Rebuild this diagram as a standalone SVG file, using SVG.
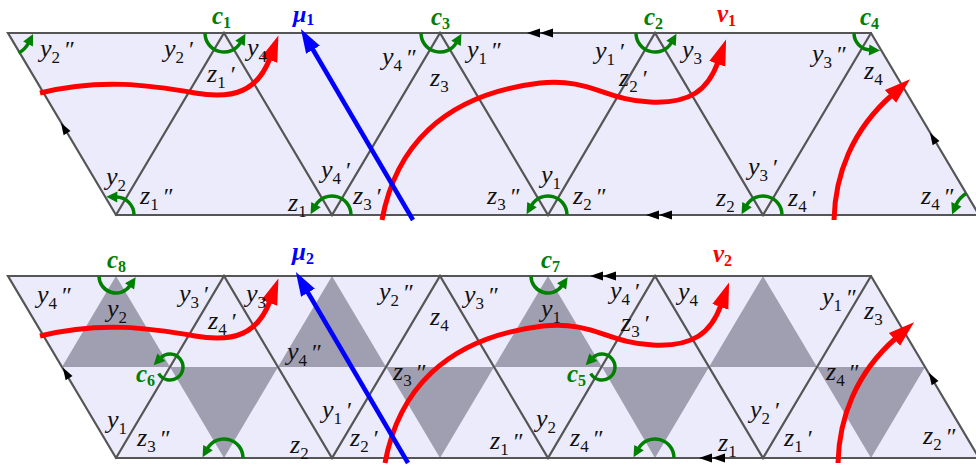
<svg xmlns="http://www.w3.org/2000/svg" width="976" height="466" viewBox="0 0 976 466">
<defs>
<style>
.fill{fill:#ebebfb;stroke:none}
.gray{fill:#9f9fb1;stroke:none}
.ln{stroke:#555;stroke-width:2.2;fill:none;stroke-linecap:round}
.rc{stroke:#ff0000;stroke-width:5;fill:none;marker-end:url(#ar)}
.bc{stroke:#0000ff;stroke-width:4.5;fill:none;marker-end:url(#ab)}
.gc{stroke:#008000;stroke-width:3.5;fill:none;marker-end:url(#ag)}
.m{font-family:"Liberation Serif","DejaVu Serif",serif;font-size:26px;font-style:italic;fill:#111}
.s{font-size:17px;font-style:normal}
.p{font-size:24px;font-style:normal}
.g{font-family:"Liberation Serif","DejaVu Serif",serif;font-size:25px;font-style:italic;font-weight:bold;fill:#008000}
.bl{fill:#0000ff}
.rd{fill:#ff0000}
.gs{font-size:16px;font-style:normal;font-weight:bold}
</style>
<marker id="ar" markerUnits="userSpaceOnUse" viewBox="0 -12 30 24" markerWidth="30" markerHeight="24" refX="2" refY="0" orient="auto"><path d="M0,-8.5 L26,0 L0,8.5 Z" fill="#ff0000"/></marker>
<marker id="ab" markerUnits="userSpaceOnUse" viewBox="0 -12 30 24" markerWidth="30" markerHeight="24" refX="2" refY="0" orient="auto"><path d="M0,-8 L24,0 L0,8 Z" fill="#0000ff"/></marker>
<marker id="ag" markerUnits="userSpaceOnUse" viewBox="-2 -8 16 16" markerWidth="16" markerHeight="16" refX="1" refY="0" orient="auto"><path d="M0,-5.5 L11,0 L0,5.5 Z" fill="#008000"/></marker>
<path id="sa" d="M-6,-4 L6,0 L-6,4 Z" fill="#000"/>
<path id="da" d="M0,0 L13,-4.5 L13,4.5 Z M13,0 L26,-4.5 L26,4.5 Z" fill="#000"/>
</defs>

<!-- Top panel -->
<g id="panel1">
<polygon class="fill" points="8,33 871,33 979,215 116,215"/>
<g id="edges1" class="ln">
<path d="M8,33 L871,33 L979,215 L116,215 Z"/>
<path d="M116,215 L224,33 L332,215 L440,33 L548,215 L655,33 L763,215 L871,33"/>
</g>
<g id="edgemarks1">
<use href="#sa" transform="translate(64,128) rotate(-120.7)"/>
<use href="#sa" transform="translate(933,138) rotate(-120.7)"/>
<use href="#da" transform="translate(527,33)"/>
<use href="#da" transform="translate(646,215)"/>
</g>
</g>

<!-- Bottom panel -->
<g id="panel2">
<polygon class="fill" points="8,276 871,276 979,458 116,458"/>
<g id="shade2">
<polygon class="gray" points="116,276 62,367 170,367"/>
<polygon class="gray" points="170,367 278,367 224,458"/>
<polygon class="gray" points="332,276 278,367 386,367"/>
<polygon class="gray" points="386,367 494,367 440,458"/>
<polygon class="gray" points="548,276 494,367 602,367"/>
<polygon class="gray" points="602,367 709,367 655,458"/>
<polygon class="gray" points="763,276 709,367 817,367"/>
<polygon class="gray" points="817,367 925,367 871,458"/>
</g>
<g id="edges2" class="ln">
<path d="M8,276 L871,276 L979,458 L116,458 Z"/>
<path d="M116,458 L224,276 L332,458 L440,276 L548,458 L655,276 L763,458 L871,276"/>
</g>
<g id="edgemarks2">
<use href="#sa" transform="translate(66,373) rotate(-120.7)"/>
<use href="#sa" transform="translate(932,378) rotate(-120.7)"/>
<use href="#da" transform="translate(590,276)"/>
<use href="#da" transform="translate(699,458)"/>
</g>
</g>

<!-- connectors: curves and arcs -->
<g id="connectors">
<path class="rc" d="M40,93 C100,78 150,85 195,93 C235,100 258,90 270,58"/>
<path class="rc" d="M382,220 C395,150 440,95 540,83 C590,78 605,100 650,102 C690,104 708,90 718,62"/>
<path class="rc" d="M834,220 C835,175 852,130 892,95"/>
<path class="bc" d="M413,220 L312,48"/>

<path class="rc" d="M40,336 C100,321 150,328 195,336 C235,343 258,333 270,301"/>
<path class="rc" d="M385,463 C398,393 443,338 543,326 C593,321 608,343 653,345 C693,347 711,333 721,305"/>
<path class="rc" d="M838,463 C839,418 856,373 896,338"/>
<path class="bc" d="M408,463 L307,291"/>

<path class="gc" d="M18.5,53 A23,23 0 0 0 28.5,43"/>
<path class="gc" d="M205,33 A19,19 0 0 0 240.5,42.5"/>
<path class="gc" d="M421,33 A19,19 0 0 0 456.5,42.5"/>
<path class="gc" d="M636,33 A19,19 0 0 0 671.5,42.5"/>
<path class="gc" d="M854,33 A17,17 0 0 0 870.1,50"/>
<path class="gc" d="M134,215 A18,18 0 0 0 116.3,197"/>
<path class="gc" d="M351,215 A19,19 0 0 0 315.5,205.5"/>
<path class="gc" d="M567,215 A19,19 0 0 0 531.5,205.5"/>
<path class="gc" d="M782,215 A19,19 0 0 0 746.5,205.5"/>
<path class="gc" d="M966.1,193.6 A25,25 0 0 0 956,205.2"/>

<path class="gc" d="M99,276 A17,17 0 0 0 130.1,285.5"/>
<path class="gc" d="M531,276 A17,17 0 0 0 562.1,285.5"/>
<path class="gc" d="M158.7,373.5 A13,13 0 1 0 160.6,358"/>
<path class="gc" d="M590.7,373.5 A13,13 0 1 0 592.6,358"/>
<path class="gc" d="M243,458 A19,19 0 0 0 207.5,448.5"/>
<path class="gc" d="M674,458 A19,19 0 0 0 638.5,448.5"/>
</g>

<!-- labels -->
<g id="labels1" class="m">
<text x="40" y="57">y<tspan class="s" dy="6">2</tspan><tspan class="p" dy="-6" dx="5">″</tspan></text>
<text x="164" y="57">y<tspan class="s" dy="6">2</tspan><tspan class="p" dy="-6" dx="5">′</tspan></text>
<text x="247" y="56">y<tspan class="s" dy="6">4</tspan></text>
<text x="207" y="82">z<tspan class="s" dy="6">1</tspan><tspan class="p" dy="-6" dx="5">′</tspan></text>
<text x="106" y="185">y<tspan class="s" dy="6">2</tspan></text>
<text x="140" y="204">z<tspan class="s" dy="6">1</tspan><tspan class="p" dy="-6" dx="5">″</tspan></text>
<text x="288" y="211">z<tspan class="s" dy="6">1</tspan></text>
<text x="321" y="178">y<tspan class="s" dy="6">4</tspan><tspan class="p" dy="-6" dx="5">′</tspan></text>
<text x="353" y="204">z<tspan class="s" dy="6">3</tspan><tspan class="p" dy="-6" dx="5">′</tspan></text>
<text x="382" y="65">y<tspan class="s" dy="6">4</tspan><tspan class="p" dy="-6" dx="5">″</tspan></text>
<text x="430" y="86">z<tspan class="s" dy="6">3</tspan></text>
<text x="467" y="58">y<tspan class="s" dy="6">1</tspan><tspan class="p" dy="-6" dx="5">″</tspan></text>
<text x="541" y="183">y<tspan class="s" dy="6">1</tspan></text>
<text x="487" y="204">z<tspan class="s" dy="6">3</tspan><tspan class="p" dy="-6" dx="5">″</tspan></text>
<text x="573" y="204">z<tspan class="s" dy="6">2</tspan><tspan class="p" dy="-6" dx="5">″</tspan></text>
<text x="595" y="59">y<tspan class="s" dy="6">1</tspan><tspan class="p" dy="-6" dx="5">′</tspan></text>
<text x="619" y="86">z<tspan class="s" dy="6">2</tspan><tspan class="p" dy="-6" dx="5">′</tspan></text>
<text x="682" y="58">y<tspan class="s" dy="6">3</tspan></text>
<text x="812" y="62">y<tspan class="s" dy="6">3</tspan><tspan class="p" dy="-6" dx="5">″</tspan></text>
<text x="864" y="79">z<tspan class="s" dy="6">4</tspan></text>
<text x="748" y="175">y<tspan class="s" dy="6">3</tspan><tspan class="p" dy="-6" dx="5">′</tspan></text>
<text x="716" y="206">z<tspan class="s" dy="6">2</tspan></text>
<text x="788" y="206">z<tspan class="s" dy="6">4</tspan><tspan class="p" dy="-6" dx="5">′</tspan></text>
<text x="921" y="204">z<tspan class="s" dy="6">4</tspan><tspan class="p" dy="-6" dx="5">″</tspan></text>
</g>

<g id="labels2" class="m">
<text x="37" y="303">y<tspan class="s" dy="6">4</tspan><tspan class="p" dy="-6" dx="5">″</tspan></text>
<text x="107" y="317">y<tspan class="s" dy="6">2</tspan></text>
<text x="179" y="302">y<tspan class="s" dy="6">3</tspan><tspan class="p" dy="-6" dx="5">′</tspan></text>
<text x="208" y="329">z<tspan class="s" dy="6">4</tspan><tspan class="p" dy="-6" dx="5">′</tspan></text>
<text x="246" y="302">y<tspan class="s" dy="6">3</tspan></text>
<text x="287" y="360">y<tspan class="s" dy="6">4</tspan><tspan class="p" dy="-6" dx="5">″</tspan></text>
<text x="107" y="428">y<tspan class="s" dy="6">1</tspan></text>
<text x="137" y="446">z<tspan class="s" dy="6">3</tspan><tspan class="p" dy="-6" dx="5">″</tspan></text>
<text x="290" y="453">z<tspan class="s" dy="6">2</tspan></text>
<text x="379" y="300">y<tspan class="s" dy="6">2</tspan><tspan class="p" dy="-6" dx="5">″</tspan></text>
<text x="430" y="325">z<tspan class="s" dy="6">4</tspan></text>
<text x="464" y="303">y<tspan class="s" dy="6">3</tspan><tspan class="p" dy="-6" dx="5">″</tspan></text>
<text x="541" y="317">y<tspan class="s" dy="6">1</tspan></text>
<text x="393" y="380">z<tspan class="s" dy="6">3</tspan><tspan class="p" dy="-6" dx="5">″</tspan></text>
<text x="322" y="418">y<tspan class="s" dy="6">1</tspan><tspan class="p" dy="-6" dx="5">′</tspan></text>
<text x="350" y="446">z<tspan class="s" dy="6">2</tspan><tspan class="p" dy="-6" dx="5">′</tspan></text>
<text x="536" y="427">y<tspan class="s" dy="6">2</tspan></text>
<text x="490" y="449">z<tspan class="s" dy="6">1</tspan><tspan class="p" dy="-6" dx="5">″</tspan></text>
<text x="570" y="446">z<tspan class="s" dy="6">4</tspan><tspan class="p" dy="-6" dx="5">″</tspan></text>
<text x="610" y="299">y<tspan class="s" dy="6">4</tspan><tspan class="p" dy="-6" dx="5">′</tspan></text>
<text x="621" y="331">z<tspan class="s" dy="6">3</tspan><tspan class="p" dy="-6" dx="5">′</tspan></text>
<text x="678" y="300">y<tspan class="s" dy="6">4</tspan></text>
<text x="822" y="305">y<tspan class="s" dy="6">1</tspan><tspan class="p" dy="-6" dx="5">″</tspan></text>
<text x="864" y="319">z<tspan class="s" dy="6">3</tspan></text>
<text x="826" y="380">z<tspan class="s" dy="6">4</tspan><tspan class="p" dy="-6" dx="5">″</tspan></text>
<text x="750" y="418">y<tspan class="s" dy="6">2</tspan><tspan class="p" dy="-6" dx="5">′</tspan></text>
<text x="718" y="451">z<tspan class="s" dy="6">1</tspan></text>
<text x="784" y="446">z<tspan class="s" dy="6">1</tspan><tspan class="p" dy="-6" dx="5">′</tspan></text>
<text x="923" y="444">z<tspan class="s" dy="6">2</tspan><tspan class="p" dy="-6" dx="5">″</tspan></text>
</g>

<g id="curvelabels" class="g">
<text x="212" y="24">c<tspan class="gs" dy="4">1</tspan></text>
<text x="431" y="25">c<tspan class="gs" dy="4">3</tspan></text>
<text x="644" y="25">c<tspan class="gs" dy="4">2</tspan></text>
<text x="860" y="25">c<tspan class="gs" dy="4">4</tspan></text>
<text x="107" y="268">c<tspan class="gs" dy="4">8</tspan></text>
<text x="541" y="268">c<tspan class="gs" dy="4">7</tspan></text>
<text x="136" y="382">c<tspan class="gs" dy="4">6</tspan></text>
<text x="567" y="382">c<tspan class="gs" dy="4">5</tspan></text>
<text class="bl" x="293" y="22" style="font-size:24px">μ<tspan class="gs" dy="3">1</tspan></text>
<text class="rd" x="717" y="22">ν<tspan class="gs" dy="4">1</tspan></text>
<text class="bl" x="292" y="260">μ<tspan class="gs" dy="4">2</tspan></text>
<text class="rd" x="713" y="262">ν<tspan class="gs" dy="4">2</tspan></text>
</g>
</svg>
